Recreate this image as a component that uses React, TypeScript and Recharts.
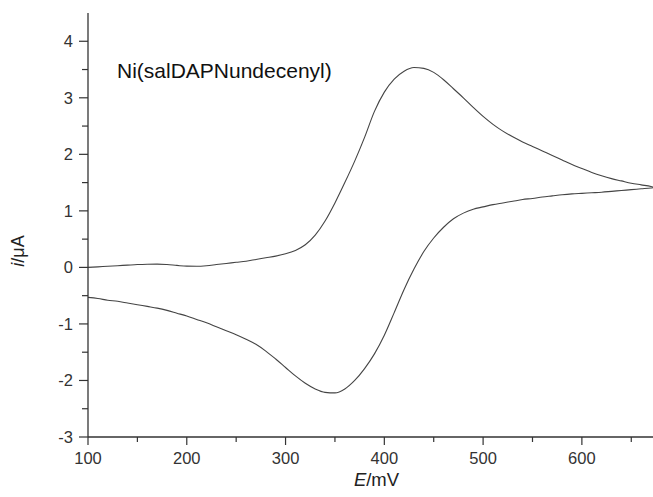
import { LineChart, Line, XAxis, YAxis, Label } from "recharts";

// Potential grid shared by both sweeps (mV)
const SWEEP_E = [
  100, 110, 120, 130, 140, 150, 160, 170, 180, 190,
  200, 210, 220, 230, 240, 250, 260, 270, 280, 290,
  300, 310, 320, 330, 340, 350, 360, 370, 380, 390,
  400, 410, 420, 430, 440, 450, 460, 470, 480, 490,
  500, 510, 520, 530, 540, 550, 560, 570, 580, 590,
  600, 610, 620, 630, 640, 650, 660, 670, 672,
];

// Anodic (forward) sweep current, µA
const FWD_I = [
  0.0, 0.01, 0.02, 0.03, 0.04, 0.05, 0.056, 0.058, 0.05, 0.035,
  0.022, 0.02, 0.03, 0.05, 0.07, 0.09, 0.11, 0.14, 0.17, 0.2,
  0.24, 0.3, 0.4, 0.57, 0.82, 1.14, 1.5, 1.88, 2.3, 2.76,
  3.1, 3.33, 3.47, 3.535, 3.52, 3.45, 3.32, 3.16, 3.0, 2.83,
  2.67, 2.53, 2.41, 2.31, 2.22, 2.14, 2.06, 1.98, 1.9, 1.82,
  1.75, 1.68, 1.62, 1.57, 1.53, 1.49, 1.46, 1.43, 1.42,
];

// Cathodic (return) sweep current, µA
const REV_I = [
  -0.53, -0.55, -0.58, -0.6, -0.63, -0.66, -0.69, -0.72, -0.76, -0.81,
  -0.86, -0.92, -0.98, -1.05, -1.12, -1.19, -1.27, -1.36, -1.48, -1.62,
  -1.77, -1.92, -2.05, -2.15, -2.21, -2.22, -2.15, -2.0, -1.79, -1.53,
  -1.2, -0.8, -0.39, -0.03, 0.28, 0.52, 0.71, 0.86, 0.96, 1.03,
  1.07, 1.11, 1.14, 1.17, 1.2, 1.22, 1.245, 1.265, 1.285, 1.3,
  1.31, 1.32, 1.33, 1.345, 1.36, 1.375, 1.39, 1.405, 1.41,
];

const X_MAJOR = [100, 200, 300, 400, 500, 600];
const X_MINOR = [150, 250, 350, 450, 550, 650];
const Y_MAJOR = [-3, -2, -1, 0, 1, 2, 3, 4];
const Y_MINOR = [-2.5, -1.5, -0.5, 0.5, 1.5, 2.5, 3.5];

const X_DOMAIN: [number, number] = [100, 672];
const Y_DOMAIN: [number, number] = [-3, 4.5];

const forward = SWEEP_E.map((E, k) => ({ E, i: FWD_I[k] }));
const reverse = SWEEP_E.map((E, k) => ({ E, i: REV_I[k] }));

const X_TICKS = [...X_MAJOR, ...X_MINOR].sort((a, b) => a - b);
const Y_TICKS = [...Y_MAJOR, ...Y_MINOR].sort((a, b) => a - b);

const FONT = "'Liberation Sans', Arial, sans-serif";
const AXIS = "#333";
const TRACE = "#444";
const TICK_FONT = 16.5;

const X_TICK_SIZE = 8;
const X_TICK_MARGIN = 7;
const Y_TICK_SIZE = 9;
const Y_TICK_MARGIN = 6;

// Tick with long/short marks: majors get a label, minors only a short stub
function XTick(props: any) {
  const { x, y, payload } = props;
  const v = payload.value;
  const major = X_MAJOR.includes(v);
  const axisY = y - X_TICK_SIZE - X_TICK_MARGIN;
  return (
    <g>
      <line x1={x} y1={axisY} x2={x} y2={axisY + (major ? 8 : 5)} stroke={AXIS} strokeWidth={1.2} />
      {major && (
        <text x={x} y={y} dy="0.71em" textAnchor="middle" fill="#333" fontSize={TICK_FONT} fontFamily={FONT}>
          {v}
        </text>
      )}
    </g>
  );
}

function YTick(props: any) {
  const { x, y, payload } = props;
  const v = payload.value;
  const major = Y_MAJOR.includes(v);
  const axisX = x + Y_TICK_SIZE + Y_TICK_MARGIN;
  return (
    <g>
      <line x1={axisX - (major ? 9 : 6)} y1={y} x2={axisX} y2={y} stroke={AXIS} strokeWidth={1.2} />
      {major && (
        <text x={x} y={y} dy="0.355em" textAnchor="end" fill="#333" fontSize={TICK_FONT} fontFamily={FONT}>
          {v}
        </text>
      )}
    </g>
  );
}

export default function App() {
  return (
    <div style={{ position: "absolute", left: 0, top: 0, width: 653, height: 497, background: "#fff" }}>
      <LineChart
        width={653}
        height={497}
        margin={{ top: 13, right: 0, bottom: 0, left: 0 }}
        style={{ fontFamily: FONT }}
      >
        <XAxis
          type="number"
          dataKey="E"
          domain={X_DOMAIN}
          allowDataOverflow
          ticks={X_TICKS}
          interval={0}
          height={60}
          tickSize={X_TICK_SIZE}
          tickMargin={X_TICK_MARGIN}
          tickLine={false}
          axisLine={{ stroke: AXIS, strokeWidth: 1.3 }}
          tick={XTick}
        >
          <Label
            content={(props: any) => {
              const vb = props.viewBox || {};
              return (
                <text
                  x={vb.x + vb.width / 2 + 6}
                  y={486}
                  textAnchor="middle"
                  fontSize={18.5}
                  fill="#222"
                  fontFamily={FONT}
                >
                  <tspan fontStyle="italic">E</tspan>/mV
                </text>
              );
            }}
          />
        </XAxis>
        <XAxis
          xAxisId="top"
          orientation="top"
          type="number"
          dataKey="E"
          domain={X_DOMAIN}
          allowDataOverflow
          height={0}
          tickLine={false}
          tick={false}
          axisLine={{ stroke: AXIS, strokeWidth: 1.3 }}
        />
        <YAxis
          type="number"
          domain={Y_DOMAIN}
          allowDataOverflow
          ticks={Y_TICKS}
          interval={0}
          width={88}
          tickSize={Y_TICK_SIZE}
          tickMargin={Y_TICK_MARGIN}
          tickLine={false}
          axisLine={{ stroke: AXIS, strokeWidth: 1.3 }}
          tick={YTick}
        >
          <Label
            content={(props: any) => {
              const vb = props.viewBox || {};
              const cy = vb.y + vb.height / 2 + 26;
              return (
                <text
                  x={24}
                  y={cy}
                  transform={`rotate(-90 24 ${cy})`}
                  textAnchor="middle"
                  fontSize={18}
                  fill="#222"
                  fontFamily={FONT}
                >
                  <tspan fontStyle="italic">i</tspan>/μA
                </text>
              );
            }}
          />
        </YAxis>
        <Line
          data={forward}
          dataKey="i"
          type="monotone"
          stroke={TRACE}
          strokeWidth={1.1}
          dot={false}
          activeDot={false}
          isAnimationActive={false}
        />
        <Line
          data={reverse}
          dataKey="i"
          type="monotone"
          stroke={TRACE}
          strokeWidth={1.1}
          dot={false}
          activeDot={false}
          isAnimationActive={false}
        />
      </LineChart>
      <div
        style={{
          position: "absolute",
          left: 117,
          top: 58,
          fontFamily: FONT,
          fontSize: 21,
          color: "#111",
          whiteSpace: "nowrap",
          lineHeight: "26px",
        }}
      >
        Ni(salDAPNundecenyl)
      </div>
    </div>
  );
}
